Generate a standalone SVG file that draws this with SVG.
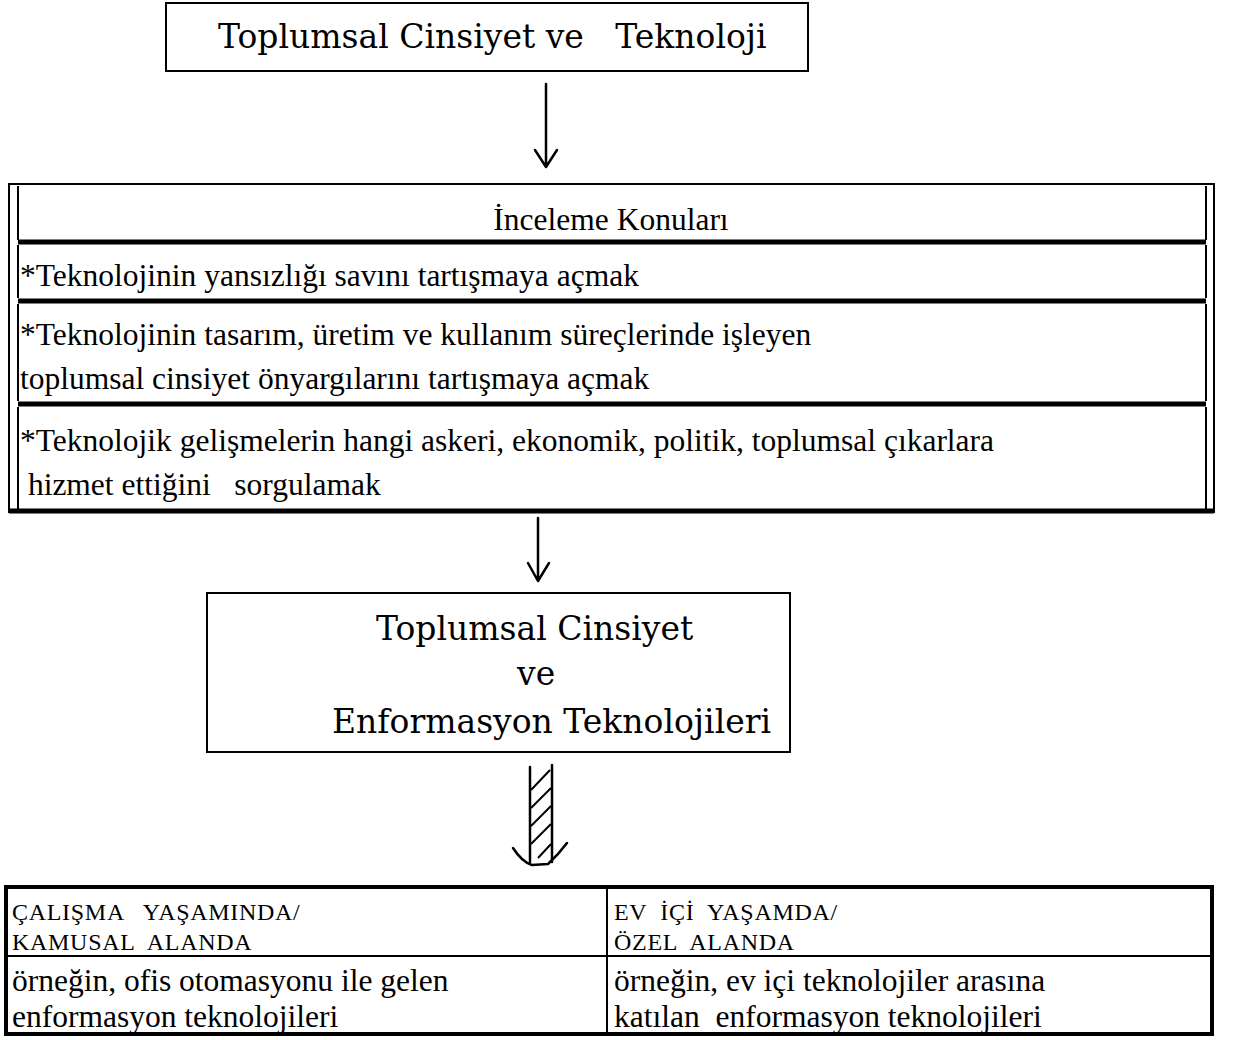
<svg xmlns="http://www.w3.org/2000/svg" width="1234" height="1040" viewBox="0 0 1234 1040">
<style>
.box{fill:none;stroke:#000;stroke-width:2}
.title{font-family:"DejaVu Serif","Liberation Serif",serif;font-size:33px;fill:#000}
.body{font-family:"Liberation Serif",serif;font-size:31.5px;fill:#000}
.caps{font-family:"Liberation Serif",serif;font-size:24px;fill:#000;letter-spacing:0.7px}
.sep{stroke:#000;stroke-width:5}
.ln{stroke:#000;stroke-width:2;fill:none}
.arr{stroke:#000;stroke-width:2.5;fill:none;stroke-linecap:round;stroke-linejoin:round}
</style>
<rect width="1234" height="1040" fill="#fff"/>
<g id="top">
<rect class="box" x="166" y="3" width="642" height="68"/>
<text class="title" x="218" y="48" xml:space="preserve">Toplumsal Cinsiyet ve   Teknoloji</text>
</g>
<g id="konular">
<rect class="ln" x="9" y="184" width="1205" height="328"/>
<line class="ln" x1="18" y1="186" x2="18" y2="240"/>
<line class="ln" x1="18" y1="245" x2="18" y2="298"/>
<line class="ln" x1="18" y1="304" x2="18" y2="401"/>
<line class="ln" x1="18" y1="407" x2="18" y2="510"/>
<line class="ln" x1="1206" y1="186" x2="1206" y2="240"/>
<line class="ln" x1="1206" y1="245" x2="1206" y2="298"/>
<line class="ln" x1="1206" y1="304" x2="1206" y2="401"/>
<line class="ln" x1="1206" y1="407" x2="1206" y2="510"/>
<line class="sep" x1="18" y1="242" x2="1206" y2="242"/>
<line class="sep" x1="18" y1="301" x2="1206" y2="301"/>
<line class="sep" x1="18" y1="404" x2="1206" y2="404"/>
<line class="sep" x1="9" y1="511" x2="1214" y2="511"/>
<text class="body" x="611" y="230" text-anchor="middle">İnceleme Konuları</text>
<text class="body" x="20" y="286">*Teknolojinin yansızlığı savını tartışmaya açmak</text>
<text class="body" x="20" y="345">*Teknolojinin tasarım, üretim ve kullanım süreçlerinde işleyen</text>
<text class="body" x="20" y="389">toplumsal cinsiyet önyargılarını tartışmaya açmak</text>
<text class="body" x="20" y="451">*Teknolojik gelişmelerin hangi askeri, ekonomik, politik, toplumsal çıkarlara</text>
<text class="body" x="20" y="495" xml:space="preserve"> hizmet ettiğini   sorgulamak</text>
</g>
<g id="enformasyon">
<rect class="box" x="207" y="593" width="583" height="159"/>
<text class="title" x="376" y="640">Toplumsal Cinsiyet</text>
<text class="title" x="517" y="685">ve</text>
<text class="title" x="332" y="733">Enformasyon Teknolojileri</text>
</g>
<g id="alanlar">
<rect x="6" y="887" width="1206" height="147" fill="none" stroke="#000" stroke-width="4"/>
<line class="ln" x1="607" y1="887" x2="607" y2="1034" stroke-width="3"/>
<line class="ln" x1="6" y1="956" x2="1212" y2="956" stroke-width="3"/>
<text class="caps" x="12" y="920" xml:space="preserve">ÇALIŞMA   YAŞAMINDA/</text>
<text class="caps" x="12" y="950" xml:space="preserve">KAMUSAL  ALANDA</text>
<text class="body" x="12" y="991">örneğin, ofis otomasyonu ile gelen</text>
<text class="body" x="12" y="1027">enformasyon teknolojileri</text>
<text class="caps" x="614" y="920" xml:space="preserve">EV  İÇİ  YAŞAMDA/</text>
<text class="caps" x="614" y="950" xml:space="preserve">ÖZEL  ALANDA</text>
<text class="body" x="614" y="991">örneğin, ev içi teknolojiler arasına</text>
<text class="body" x="614" y="1027" xml:space="preserve">katılan  enformasyon teknolojileri</text>
</g>
<g id="connectors">
<path class="arr" d="M546 84 L546 166 M535 150 L546 167 L557 150"/>
<path class="arr" d="M538 518 L538 580 M528 563 L538 581 L549 563"/>
<g id="hatched-arrow">
<path class="arr" d="M530 767 L530 862 M552 765 L552 862"/>
<path class="arr" d="M513 848 Q522 862 532 865 L548 864 Q558 855 567 843"/>
<path class="ln" d="M531 790 L550 770 M531 808 L551 788 M531 826 L551 806 M531 844 L551 824 M538 858 L551 844"/>
</g>
</g>
</svg>
